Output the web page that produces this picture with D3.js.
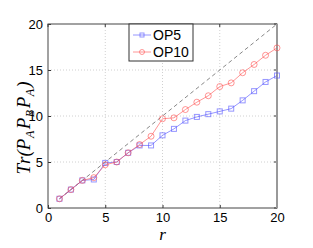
<!DOCTYPE html>
<html>
<head>
<meta charset="utf-8">
<script src="https://cdn.jsdelivr.net/npm/d3@7"></script>
<style>
  body { margin: 0; background: #fff; }
  text { font-family: "Liberation Sans", Arial, sans-serif; }
</style>
</head>
<body>
<script>
// data
var rValues = [1,2,3,4,5,6,7,8,9,10,11,12,13,14,15,16,17,18,19,20];
var op5 = [1,2,3,3.1,4.9,5,6,6.8,6.8,7.9,8.6,9.5,9.9,10.2,10.5,10.8,11.7,12.7,13.7,14.4];
var op10 = [1,2,3,3.3,4.7,5,6,6.9,7.8,9.7,9.8,10.7,11.5,12.2,13.2,13.6,14.7,15.6,16.6,17.4];
var seriesNames = ["OP5", "OP10"];
var xTicks = [0,5,10,15,20];
var yTicks = [0,5,10,15,20];

// margin
var margin = {top: 24, right: 36, bottom: 40, left: 48},
    width = 313 - margin.left - margin.right,
    height = 248 - margin.top - margin.bottom;

var svg = d3.select("body").append("svg")
    .attr("width", 313)
    .attr("height", 248);

var g = svg.append("g")
    .attr("transform", "translate(" + margin.left + "," + margin.top + ")");

var x = d3.scaleLinear().domain([0, 20]).range([0, width]);
var y = d3.scaleLinear().domain([0, 20]).range([height, 0]);

// grid
g.selectAll(".gx").data(xTicks.slice(1, -1)).enter().append("line")
    .attr("x1", function(d) { return x(d); }).attr("x2", function(d) { return x(d); })
    .attr("y1", 0).attr("y2", height)
    .attr("stroke", "#d0d0d0").attr("stroke-dasharray", "1,2");
g.selectAll(".gy").data(yTicks.slice(1, -1)).enter().append("line")
    .attr("y1", function(d) { return y(d); }).attr("y2", function(d) { return y(d); })
    .attr("x1", 0).attr("x2", width)
    .attr("stroke", "#d0d0d0").attr("stroke-dasharray", "1,2");

// diagonal
g.append("line")
    .attr("x1", x(1)).attr("y1", y(1))
    .attr("x2", x(20)).attr("y2", y(20))
    .attr("stroke", "#888").attr("stroke-dasharray", "4,3");

// axes
var xAxis = d3.axisBottom(x).tickValues(xTicks).tickSize(-3).tickPadding(5);
var yAxis = d3.axisLeft(y).tickValues(yTicks).tickSize(-3).tickPadding(5);

var gx = g.append("g").attr("transform", "translate(0," + height + ")").call(xAxis);
var gy = g.append("g").call(yAxis);
[gx, gy].forEach(function(a) {
  a.select(".domain").remove();
  a.selectAll("line").attr("stroke", "#333");
  a.selectAll("text").attr("font-size", 13).attr("fill", "#000")
    .style("font-family", "Liberation Sans, Arial, sans-serif");
});
// top / right ticks
g.selectAll(".tt").data(xTicks).enter().append("line")
    .attr("x1", function(d) { return x(d); }).attr("x2", function(d) { return x(d); })
    .attr("y1", 0).attr("y2", 3).attr("stroke", "#333");
g.selectAll(".tr").data(yTicks).enter().append("line")
    .attr("y1", function(d) { return y(d); }).attr("y2", function(d) { return y(d); })
    .attr("x1", width).attr("x2", width - 3).attr("stroke", "#333");

// box
g.append("rect").attr("width", width).attr("height", height)
    .attr("fill", "none").attr("stroke", "#444").attr("stroke-width", 1);
g.append("line").attr("x1", width).attr("x2", width).attr("y1", 0).attr("y2", height)
    .attr("stroke", "#999").attr("stroke-width", 2);

// series
var line = d3.line()
    .x(function(d, i) { return x(rValues[i]); })
    .y(function(d) { return y(d); });

var blue = "rgba(80,80,255,0.6)", red = "rgba(255,80,80,0.6)";

g.append("path").datum(op5).attr("d", line)
    .attr("fill", "none").attr("stroke", blue).attr("stroke-width", 1);
g.selectAll(".sq").data(op5).enter().append("rect")
    .attr("x", function(d, i) { return x(rValues[i]) - 2.5; })
    .attr("y", function(d) { return y(d) - 2.5; })
    .attr("width", 5).attr("height", 5)
    .attr("fill", "none").attr("stroke", blue);

g.append("path").datum(op10).attr("d", line)
    .attr("fill", "none").attr("stroke", red).attr("stroke-width", 1);
g.selectAll(".ci").data(op10).enter().append("circle")
    .attr("cx", function(d, i) { return x(rValues[i]); })
    .attr("cy", function(d) { return y(d); })
    .attr("r", 3)
    .attr("fill", "none").attr("stroke", red);

// legend
var lg = svg.append("g").attr("transform", "translate(129,24)");
lg.append("rect").attr("width", 64).attr("height", 37)
    .attr("fill", "#fff").attr("stroke", "#333");
var legColors = [blue, red];
seriesNames.forEach(function(name, i) {
  var yy = 11 + i * 17;
  lg.append("line").attr("x1", 4).attr("x2", 22).attr("y1", yy).attr("y2", yy)
      .attr("stroke", legColors[i]);
  if (i === 0) {
    lg.append("rect").attr("x", 11).attr("y", yy - 2).attr("width", 4).attr("height", 4)
        .attr("fill", "none").attr("stroke", legColors[i]);
  } else {
    lg.append("circle").attr("cx", 13).attr("cy", yy).attr("r", 2.5)
        .attr("fill", "none").attr("stroke", legColors[i]);
  }
  lg.append("text").attr("x", 24).attr("y", yy + 5).attr("font-size", 14).text(name);
});

// labels
svg.append("text")
    .attr("x", margin.left + width / 2).attr("y", 240)
    .attr("text-anchor", "middle")
    .style("font-family", "Liberation Serif, serif").style("font-style", "italic")
    .attr("font-size", 17).text("r");

var yl = svg.append("text")
    .attr("transform", "translate(30,128) rotate(-90)")
    .attr("text-anchor", "middle")
    .style("font-family", "Liberation Serif, serif").style("font-style", "italic")
    .attr("font-size", 19);
yl.append("tspan").text("T");
yl.append("tspan").attr("dx", 1).text("r(P");
yl.append("tspan").attr("font-size", 12).attr("dy", 4).attr("dx", 0.5).text("A");
yl.append("tspan").attr("dy", -4).attr("dx", 1.5).text("P");
yl.append("tspan").attr("font-size", 12).attr("dy", 4).attr("dx", 0.5).text("B");
yl.append("tspan").attr("dy", -4).attr("dx", 1.5).text("P");
yl.append("tspan").attr("font-size", 12).attr("dy", 4).attr("dx", 0.5).text("A");
yl.append("tspan").attr("dy", -4).attr("dx", 1).text(")");
</script>
</body>
</html>
